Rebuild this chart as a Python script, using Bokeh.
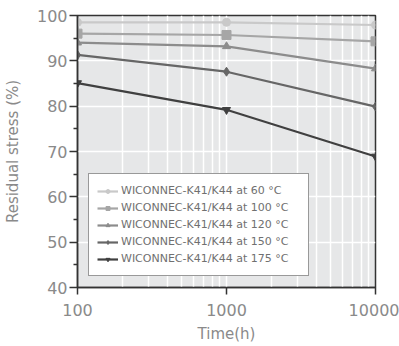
from bokeh.plotting import figure
from bokeh.models import FixedTicker, NumeralTickFormatter, Legend, LegendItem, Range1d
from bokeh.embed import file_html
from bokeh.resources import INLINE

times = [100, 1000, 10000]
s60 = [98.5, 98.5, 97.9]
s100 = [96.0, 95.7, 94.3]
s120 = [94.0, 93.2, 88.3]
s150 = [91.3, 87.6, 79.9]
s175 = [85.1, 79.2, 68.9]

labels = [
    "WICONNEC-K41/K44 at 60 °C",
    "WICONNEC-K41/K44 at 100 °C",
    "WICONNEC-K41/K44 at 120 °C",
    "WICONNEC-K41/K44 at 150 °C",
    "WICONNEC-K41/K44 at 175 °C",
]
series = [s60, s100, s120, s150, s175]
colors = ["#c9c9c9", "#a6a6a6", "#8c8c8c", "#666666", "#404040"]
markers = ["circle", "square", "triangle", "diamond", "inverted_triangle"]
sizes = [8, 9, 8, 9, 8]

FONT = "DejaVu Sans ExtraLight, DejaVu Sans"

p = figure(width=399, height=346, x_axis_type="log",
           x_range=Range1d(100, 10000), y_range=Range1d(40, 100),
           output_backend="svg", toolbar_location=None,
           min_border_left=76, min_border_right=24, min_border_top=15, min_border_bottom=59)

p.background_fill_color = "#e6e7e8"
p.border_fill_color = "white"
p.outline_line_color = "#333333"
p.outline_line_width = 1.5

p.xaxis.ticker = FixedTicker(ticks=[100, 1000, 10000],
                             minor_ticks=[200, 300, 400, 500, 600, 700, 800, 900,
                                          2000, 3000, 4000, 5000, 6000, 7000, 8000, 9000])
p.xaxis.formatter = NumeralTickFormatter(format="0")
p.yaxis.ticker = FixedTicker(ticks=[40, 50, 60, 70, 80, 90, 100],
                             minor_ticks=[45, 55, 65, 75, 85, 95])

for ax in (p.xaxis[0], p.yaxis[0]):
    ax.axis_line_color = "#333333"
    ax.axis_line_width = 1.5
    ax.major_tick_line_color = "#333333"
    ax.major_tick_line_width = 1.5
    ax.major_tick_in = 0
    ax.major_tick_out = 7
    ax.minor_tick_in = 0
    ax.major_label_text_font = FONT
    ax.major_label_text_font_size = "16px"
    ax.major_label_text_color = "#8a8a8a"
    ax.axis_label_text_font = FONT
    ax.axis_label_text_font_size = "15px"
    ax.axis_label_text_font_style = "normal"
    ax.axis_label_text_color = "#8a8a8a"

p.xaxis.minor_tick_line_color = None
p.xaxis.major_label_standoff = 9
p.xaxis.axis_label = "Time(h)"
p.xaxis.axis_label_standoff = 6

p.yaxis.minor_tick_line_color = "#333333"
p.yaxis.minor_tick_line_width = 1.5
p.yaxis.minor_tick_out = 4
p.yaxis.major_tick_out = 8
p.yaxis.major_label_standoff = 2
p.yaxis.axis_label = "Residual stress (%)"
p.yaxis.axis_label_standoff = 12

p.xgrid.grid_line_color = "white"
p.xgrid.grid_line_width = 1.5
p.xgrid.minor_grid_line_color = "white"
p.xgrid.minor_grid_line_width = 1.5
p.ygrid.grid_line_color = "white"
p.ygrid.grid_line_width = 1.5

items = []
for ys, c, m, sz, lab in zip(series, colors, markers, sizes, labels):
    ln = p.line(times, ys, line_color=c, line_width=2.2)
    sc = p.scatter(times, ys, marker=m, size=sz, fill_color=c, line_color=c)
    items.append(LegendItem(label=lab, renderers=[ln, sc]))

legend = Legend(items=items, location=(11, 11),
                label_text_font=FONT, label_text_font_size="11px",
                label_text_color="#707070",
                glyph_width=21, glyph_height=10, label_height=17, label_width=179,
                label_standoff=3, spacing=0, padding=8, margin=0,
                border_line_color="#333333", border_line_width=1.2,
                background_fill_color="white", background_fill_alpha=1.0)
p.add_layout(legend, "center")

open("out.html", "w").write(file_html(p, INLINE))
